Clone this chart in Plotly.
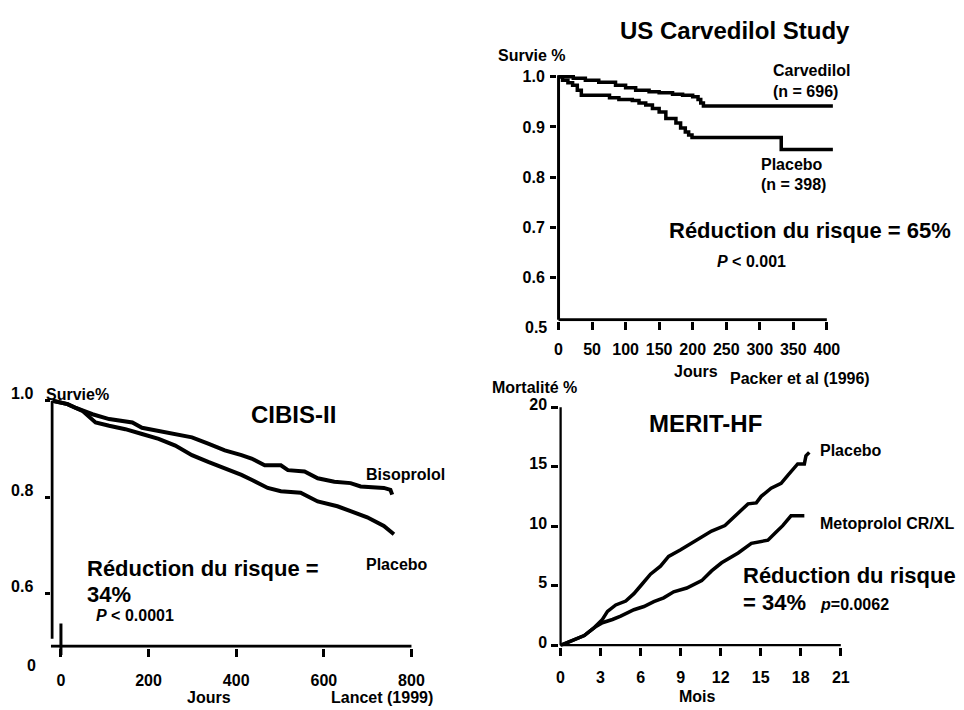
import plotly.graph_objects as go

W, H = 964, 710
FONT = "Liberation Sans"

# ---------------- data ----------------
# US Carvedilol Study (survival vs days, step curves)
carv_days = [0, 22, 40, 60, 85, 100, 115, 135, 150, 170, 185, 200, 208, 212, 216, 409]
carv_surv = [1.0, 0.997, 0.993, 0.989, 0.983, 0.978, 0.973, 0.970, 0.968, 0.965, 0.963,
             0.960, 0.955, 0.948, 0.942, 0.942]
carv_plac_days = [0, 6, 14, 21, 28, 34, 76, 90, 110, 120, 130, 140, 150, 160, 175, 182,
                  189, 194, 199, 332, 409]
carv_plac_surv = [1.0, 0.993, 0.988, 0.983, 0.973, 0.963, 0.958, 0.955, 0.953, 0.948, 0.944,
                  0.937, 0.930, 0.917, 0.908, 0.898, 0.890, 0.884, 0.879, 0.855, 0.855]
carv_xticks = [0, 50, 100, 150, 200, 250, 300, 350, 400]
carv_yticks = [0.6, 0.7, 0.8, 0.9, 1.0]
carv_ytick_labels = ["0.6", "0.7", "0.8", "0.9", "1.0"]

# CIBIS-II (survival vs days)
cibis_biso_days = [-19, 15, 34, 72, 110, 140, 163, 185, 223, 261, 299, 336, 374, 412, 435,
                   465, 502, 518, 556, 586, 624, 661, 684, 737, 752, 756]
cibis_biso_surv = [1.0, 0.993, 0.985, 0.972, 0.962, 0.958, 0.955, 0.944, 0.938, 0.931, 0.924,
                   0.911, 0.897, 0.887, 0.880, 0.866, 0.866, 0.856, 0.853, 0.839, 0.832,
                   0.829, 0.822, 0.819, 0.815, 0.805]
cibis_plac_days = [-19, 15, 49, 79, 110, 147, 185, 223, 261, 299, 336, 374, 412, 435, 472,
                   502, 547, 586, 631, 661, 699, 737, 760]
cibis_plac_surv = [1.0, 0.993, 0.979, 0.955, 0.948, 0.941, 0.931, 0.921, 0.907, 0.887, 0.873,
                   0.860, 0.846, 0.836, 0.819, 0.812, 0.809, 0.791, 0.781, 0.771, 0.758,
                   0.740, 0.723]
cibis_xticks = [0, 200, 400, 600, 800]
cibis_yticks = [0.6, 0.8, 1.0]
cibis_ytick_labels = ["0.6", "0.8", "1.0"]

# MERIT-HF (mortality % vs months)
merit_plac_months = [0, 1.04, 1.78, 2.53, 3.14, 3.52, 4.14, 4.89, 5.50, 6.12, 6.74, 7.49,
                     8.10, 8.97, 9.96, 10.58, 11.32, 12.32, 13.31, 14.05, 14.67, 15.04,
                     15.78, 16.53, 17.03, 17.52, 17.77, 18.27, 18.39, 18.64]
merit_plac_mort = [0, 0.46, 0.82, 1.49, 2.17, 2.85, 3.39, 3.72, 4.34, 5.15, 5.97, 6.65,
                   7.46, 8.01, 8.69, 9.10, 9.59, 10.06, 11.15, 11.88, 11.96, 12.51, 13.19,
                   13.60, 14.28, 14.96, 15.23, 15.23, 15.91, 16.20]
merit_meto_months = [0, 1.04, 1.78, 2.53, 3.14, 3.89, 4.51, 5.50, 6.25, 6.99, 7.73, 8.48,
                     9.46, 10.58, 11.32, 12.07, 13.31, 14.30, 15.54, 16.16, 16.65, 17.27,
                     18.27]
merit_meto_mort = [0, 0.46, 0.82, 1.49, 1.90, 2.17, 2.45, 2.99, 3.26, 3.67, 3.99, 4.49,
                   4.81, 5.43, 6.25, 6.93, 7.75, 8.56, 8.83, 9.51, 10.05, 10.87, 10.87]
merit_xticks = [0, 3, 6, 9, 12, 15, 18, 21]
merit_yticks = [0, 5, 10, 15, 20]

# ---------------- panel geometry (pixel mapping) ----------------
# carvedilol: px = 559 + 0.675*x ; py = 580 - 510*y
CV = dict(ox=559, sx=0.675, oy=580, sy=510, xr=[-2.2, 416], yr=[0.5127, 1.012])
# cibis: px = 58.3 + 0.4409*x ; py = 889.5 - 490*y
CB = dict(ox=58.3, sx=0.4409, oy=889.5, sy=490, xr=[-23.8, 866], yr=[0.4871, 1.0153])
# merit: px = 561 + 13.43*x ; py = 648.3 - 12.115*y
MR = dict(ox=561, sx=13.43, oy=648.3, sy=12.115, xr=[-0.093, 21.5], yr=[-0.103, 20.4])


def xdom(p):
    return [(p["ox"] + p["xr"][0] * p["sx"]) / W, (p["ox"] + p["xr"][1] * p["sx"]) / W]


def ydom(p):
    return [1 - (p["oy"] - p["yr"][0] * p["sy"]) / H, 1 - (p["oy"] - p["yr"][1] * p["sy"]) / H]


def tickfont(size):
    return dict(family=FONT, size=size, color="black", weight="bold")


fig = go.Figure()
LW = 3.5
fig.add_trace(go.Scatter(x=carv_days, y=carv_surv, mode="lines", line=dict(color="black", width=LW, shape="hv"),
                         xaxis="x", yaxis="y", name="Carvedilol"))
fig.add_trace(go.Scatter(x=carv_plac_days, y=carv_plac_surv, mode="lines", line=dict(color="black", width=LW, shape="hv"),
                         xaxis="x", yaxis="y", name="Placebo"))
fig.add_trace(go.Scatter(x=cibis_biso_days, y=cibis_biso_surv, mode="lines", line=dict(color="black", width=4),
                         xaxis="x2", yaxis="y2", name="Bisoprolol"))
fig.add_trace(go.Scatter(x=cibis_plac_days, y=cibis_plac_surv, mode="lines", line=dict(color="black", width=4),
                         xaxis="x2", yaxis="y2", name="Placebo"))
fig.add_trace(go.Scatter(x=merit_plac_months, y=merit_plac_mort, mode="lines", line=dict(color="black", width=LW),
                         xaxis="x3", yaxis="y3", name="Placebo"))
fig.add_trace(go.Scatter(x=merit_meto_months, y=merit_meto_mort, mode="lines", line=dict(color="black", width=LW),
                         xaxis="x3", yaxis="y3", name="Metoprolol CR/XL"))

common = dict(showgrid=False, zeroline=False, showline=False, ticks="outside", tickcolor="black", fixedrange=True)

layout = dict(
    width=W, height=H, margin=dict(l=0, r=0, t=0, b=0),
    paper_bgcolor="white", plot_bgcolor="rgba(0,0,0,0)", showlegend=False,
    xaxis=dict(common, domain=xdom(CV), range=CV["xr"], anchor="y", tickvals=carv_xticks,
               ticklen=8, tickwidth=3, tickfont=tickfont(16), ticklabelstandoff=6),
    yaxis=dict(common, domain=ydom(CV), range=CV["yr"], anchor="x", tickvals=carv_yticks,
               ticktext=carv_ytick_labels, ticklen=6, tickwidth=3, tickfont=tickfont(16), ticklabelstandoff=2),
    xaxis2=dict(common, domain=xdom(CB), range=CB["xr"], anchor="y2", tickvals=cibis_xticks,
                ticklen=8, tickwidth=3, tickfont=tickfont(16), ticklabelstandoff=10),
    yaxis2=dict(common, domain=ydom(CB), range=CB["yr"], anchor="x2", tickvals=cibis_yticks,
                ticktext=cibis_ytick_labels, ticklen=5, tickwidth=3, tickfont=tickfont(16),
                ticklabelstandoff=8, ticklabelshift=-7),
    xaxis3=dict(common, domain=xdom(MR), range=MR["xr"], anchor="y3", tickvals=merit_xticks,
                ticklen=8, tickwidth=2.5, tickfont=tickfont(16), ticklabelstandoff=8),
    yaxis3=dict(common, domain=ydom(MR), range=MR["yr"], anchor="x3", tickvals=merit_yticks,
                ticklen=7, tickwidth=2.5, tickfont=tickfont(16), ticklabelstandoff=1, ticklabelshift=-3),
)
fig.update_layout(**layout)

# ---------------- axis lines ----------------
def line(xref, yref, x0, y0, x1, y1, w):
    return dict(type="line", xref=xref, yref=yref, x0=x0, y0=y0, x1=x1, y1=y1,
                line=dict(color="black", width=w), layer="above")

cv_xline_y = CV["yr"][0] + 1.5 / CV["sy"]
cb_xline_y = CB["yr"][0] + 1.5 / CB["sy"]
cb_yline_x = CB["xr"][0] + 1.5 / CB["sx"]
shapes = [
    line("x", "y", 0, cv_xline_y, 0, 1.003, 3),
    line("x", "y", 0, cv_xline_y, 400, cv_xline_y, 3),
    line("x2", "y2", cb_yline_x, 0.5057, cb_yline_x, 1.0, 3),
    line("x2", "y2", CB["xr"][0] + 1.0, cb_xline_y, 800, cb_xline_y, 3),
    line("x2", "paper", 0, 1 - 626 / H, 0, 1 - 658 / H, 3),
    line("x3", "y3", 0, 0, 0, 20, 2.5),
    line("x3", "y3", 0, 0, 21, 0, 2.5),
]
fig.update_layout(shapes=shapes)

# ---------------- texts ----------------
def txt(text, px, py, size, xanchor="left", bold=True):
    return dict(text=text, x=px / W, y=1 - py / H, xref="paper", yref="paper",
                xanchor=xanchor, yanchor="middle", showarrow=False,
                font=dict(family=FONT, size=size, color="black", weight="bold" if bold else "normal"))

ann = [
    # Carvedilol
    txt("US Carvedilol Study", 737, 23, 24, "center"),
    txt("Survie %", 496, 48, 16),
    txt("Carvedilol", 773, 64, 16),
    txt("(n = 696)", 773, 85, 16),
    txt("Placebo", 761, 159, 16),
    txt("(n = 398)", 761, 180, 16),
    txt("Réduction du risque = 65%", 668, 226, 22),
    txt("<i>P</i> < 0.001", 716, 258, 16),
    txt("0.5", 549, 325, 16, "right"),
    txt("Jours", 673, 370, 16),
    txt("Packer et al (1996)", 730, 377, 16),
    # CIBIS-II
    txt("Survie%", 41, 393, 16),
    txt("CIBIS-II", 292, 413, 24, "center"),
    txt("Bisoprolol", 363, 475, 16),
    txt("Placebo", 363, 566, 16),
    txt("Réduction du risque =", 83, 570, 22),
    txt("34%", 83, 597, 22),
    txt("<i>P</i> < 0.0001", 92, 618, 16),
    txt("0", 35, 669, 16, "right"),
    txt("Jours", 183, 701, 16),
    txt("Lancet (1999)", 328, 701, 16),
    # MERIT-HF
    txt("Mortalité %", 490, 386, 16),
    txt("MERIT-HF", 707, 423, 24, "center"),
    txt("Placebo", 820, 450, 16),
    txt("Metoprolol CR/XL", 820, 524, 16),
    txt("Réduction du risque", 743, 577, 22),
    txt("= 34%", 743, 605, 22),
    txt("<i>p</i>=0.0062", 820, 607, 16),
    txt("Mois", 699, 700, 16, "center"),
]
fig.update_layout(annotations=ann)

fig.write_html("out.html")
